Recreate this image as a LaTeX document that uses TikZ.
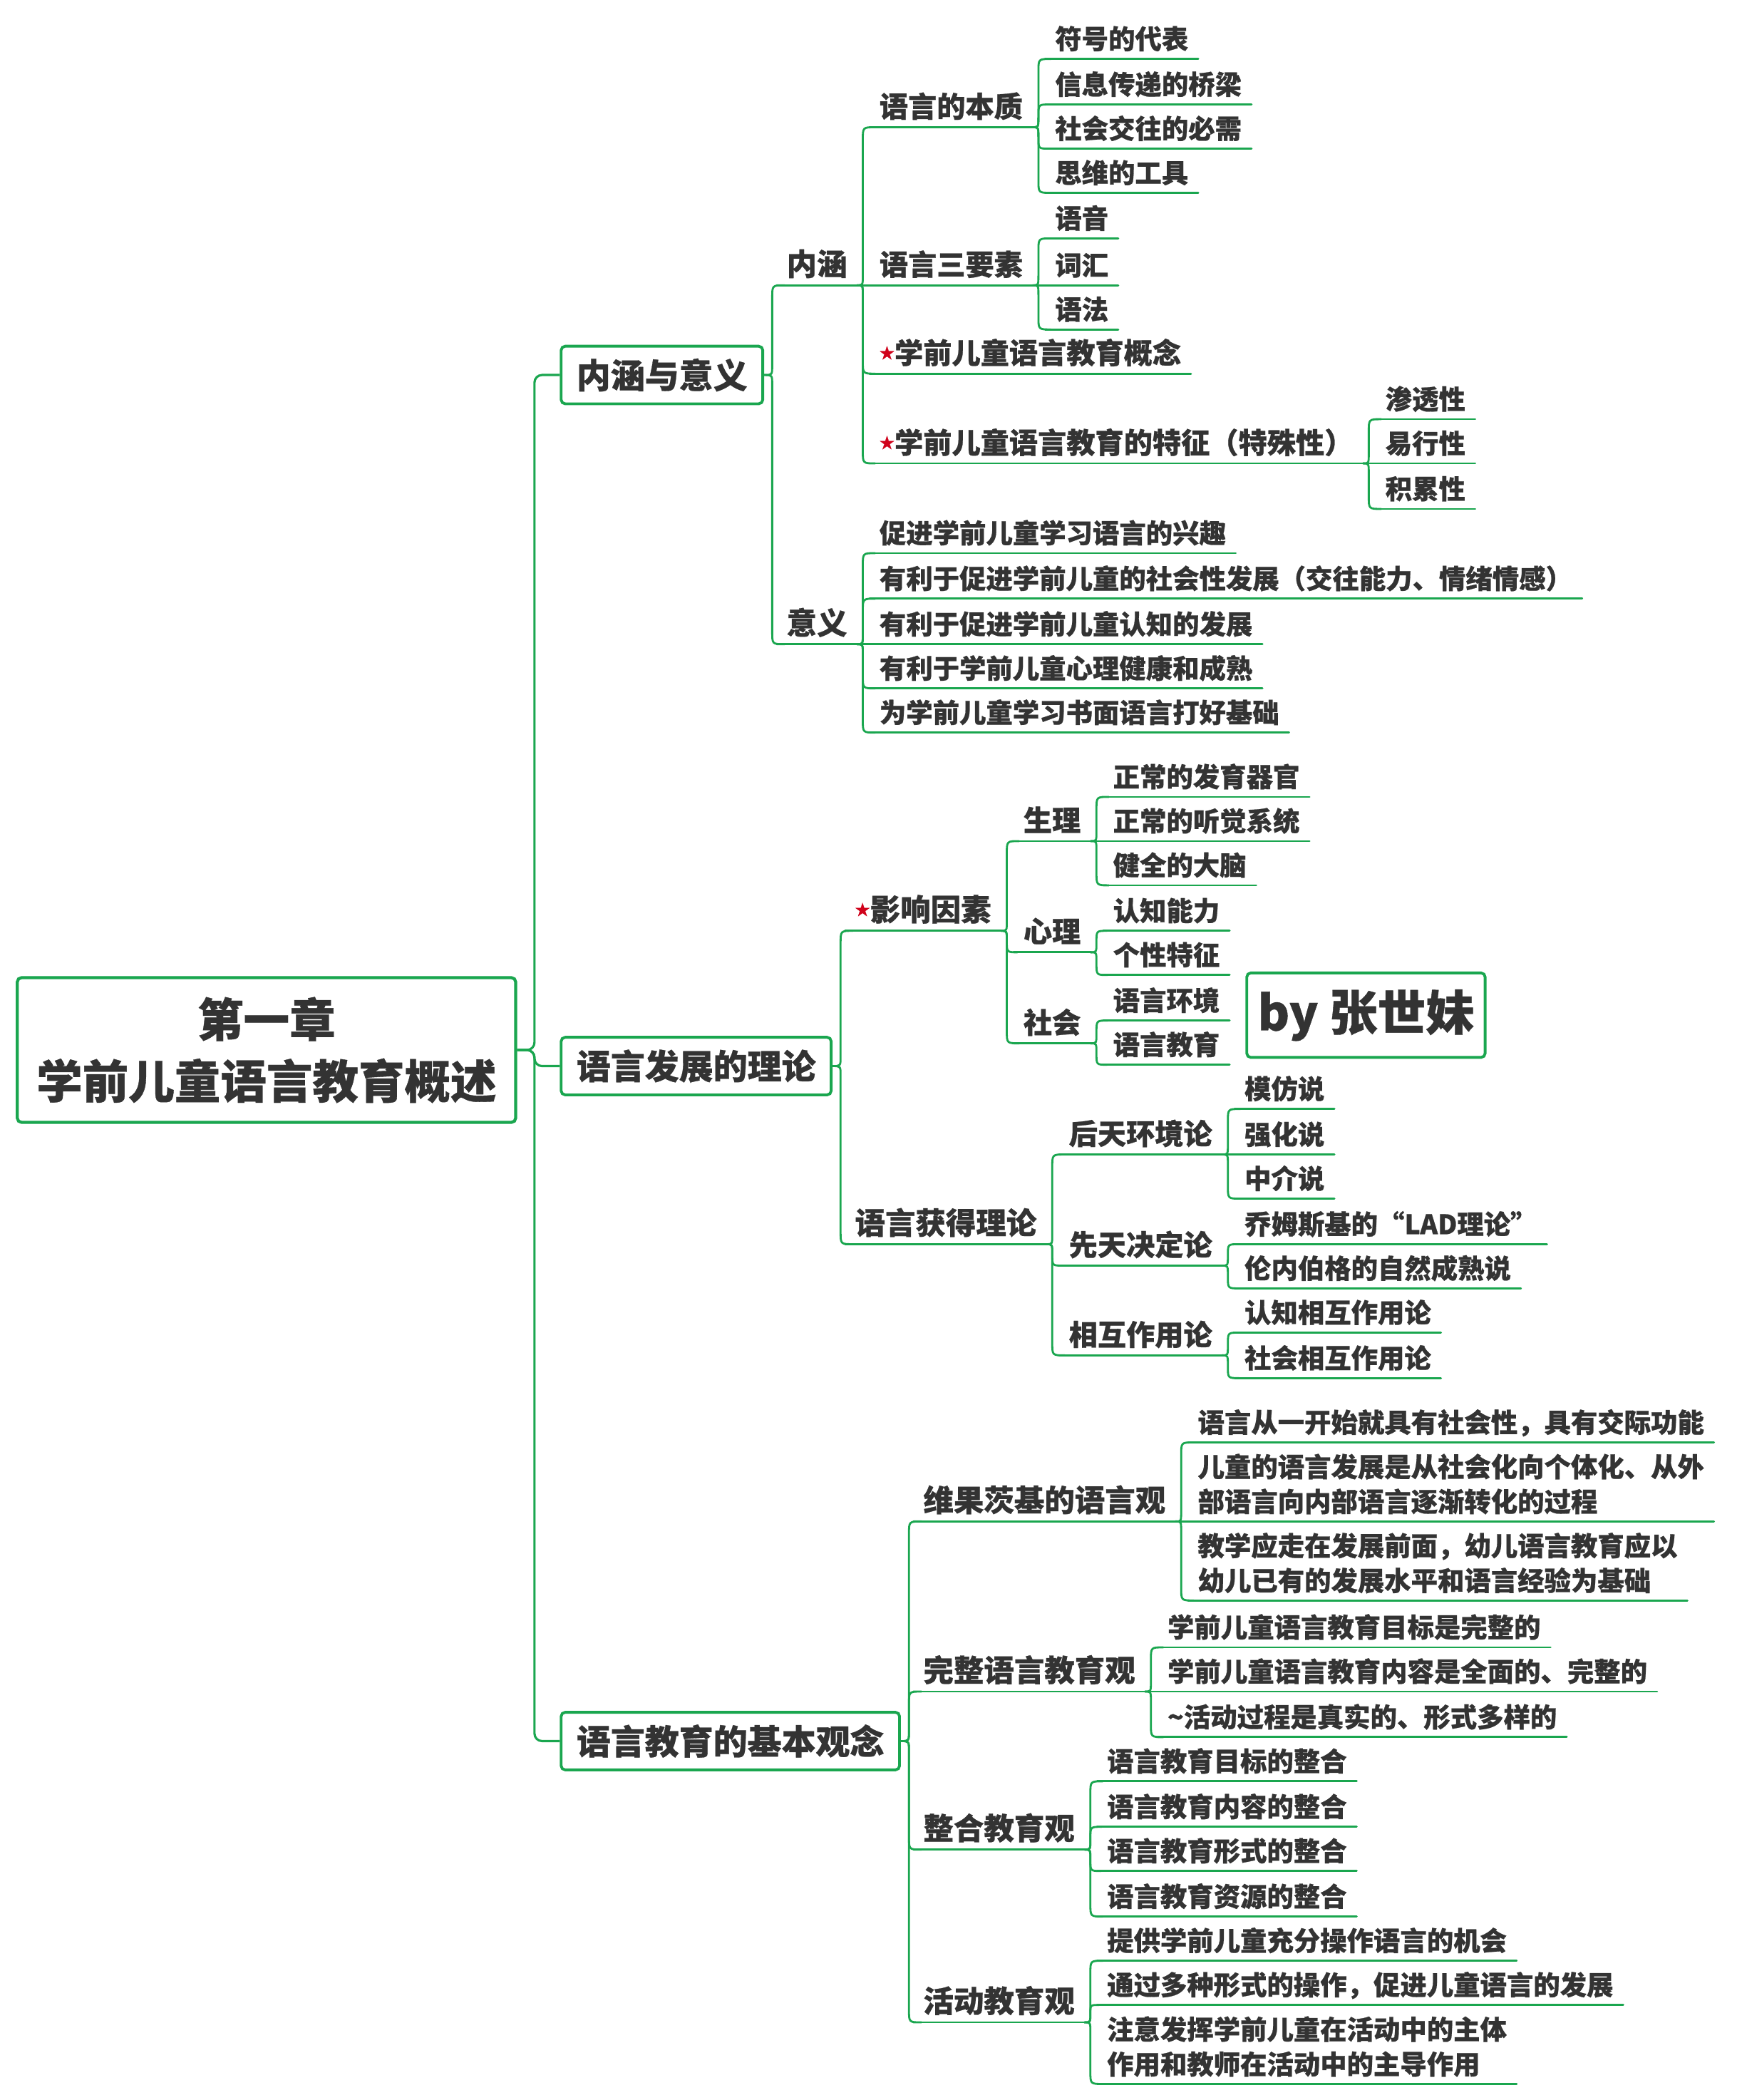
\documentclass[tikz,border=0pt]{standalone}
\usepackage{fontspec}
\setmainfont{Noto Sans CJK SC}[BoldFeatures={FakeBold=0.6}]
\usetikzlibrary{calc}
\definecolor{grn}{HTML}{1AA64F}
\definecolor{txt}{HTML}{333333}
\definecolor{starred}{HTML}{D0021B}
\newcommand\redstar[1]{{\color{starred}\raisebox{#1}{\fontsize{6}{6}\selectfont ★}}}
\newcommand\conn[3][2.3pt]{%
  \draw[link] let \p1=(#2), \p2=(#3.south west),
    \n1={sign(\y2-\y1)}, \n2={min(5pt,abs(\y2-\y1)/2)}, \n3={min(3.8pt,abs(\y2-\y1)/2)} in
    (\p1) .. controls ({\x1+#1},{\y1}) .. ({\x1+#1},{\y1+\n1*\n3})
    -- ({\x1+#1},{\y2-\n1*\n2}) .. controls ({\x1+#1},{\y2}) .. ({\x1+#1+\n2},{\y2}) -- (\p2);}
\tikzset{
  link/.style={draw=grn, line width=0.8pt, line cap=round},
  trunk/.style={draw=grn, line width=0.9pt, rounded corners=3pt},
  topic/.style={anchor=south west, text=txt, inner xsep=3.73pt, inner ysep=1.6pt, text depth=2.2pt,
    append after command={(\tikzlastnode.south west) edge[link] (\tikzlastnode.south east)}},
  topicml/.style={anchor=south west, text=txt, inner xsep=3.73pt, inner ysep=2.6pt, align=left,
    append after command={(\tikzlastnode.south west) edge[link] (\tikzlastnode.south east)}},
  lvtwo/.style={topic, font=\bfseries\fontsize{12.04}{15}\selectfont},
  lvthree/.style={topic, font=\bfseries\fontsize{11.4}{14}\selectfont},
  leaf/.style={topic, font=\bfseries\fontsize{10.6}{13.85}\selectfont},
  leafml/.style={topicml, font=\bfseries\fontsize{10.6}{13.85}\selectfont},
  cx/.style={xshift=5pt},
  bx/.style={xshift=5pt},
  boxone/.style={draw=grn, line width=1.1pt, rounded corners=1.6pt, fill=white, text=txt,
    inner xsep=6.1pt, inner ysep=0pt, minimum height=22.9pt, anchor=west,
    font=\bfseries\fontsize{13.6}{16}\selectfont},
  rootbox/.style={draw=grn, line width=1.2pt, rounded corners=1.6pt, fill=white, text=txt,
    minimum width=198.2pt, minimum height=57.5pt, align=center, inner sep=0pt,
    font=\bfseries\fontsize{18.3}{24.5}\selectfont},
  signbox/.style={draw=grn, line width=1.1pt, rounded corners=1.6pt, fill=white, text=txt,
    minimum width=94.8pt, minimum height=33.6pt, inner sep=0pt,
    font=\bfseries\fontsize{19.2}{22}\selectfont},
}
\begin{document}
\begin{tikzpicture}[x=0.5327pt, y=-0.5327pt]
\fill[white] (0,0) rectangle (1297,1568);
\useasboundingbox (0,0) rectangle (1297,1568);

% root and main boxes
\node[rootbox] (root) at (199,784) {第一章\\学前儿童语言教育概述};
\node[boxone] (b1) at (418,280) {内涵与意义};
\node[boxone] (b2) at (418,796) {语言发展的理论};
\node[boxone] (b3) at (418,1300) {语言教育的基本观念};
\node[signbox] (sig) at (1020,758) {by 张世妹};

% section 1
\node[lvtwo,bx] (n1) at (b1.east |- 0,213) {内涵};
\node[lvtwo,bx] (n2) at (b1.east |- 0,481) {意义};
\node[lvthree,cx] (n11) at (n1.south east |- 0,95) {语言的本质};
\node[lvthree,cx] (n12) at (n1.south east |- 0,213) {语言三要素};
\node[lvthree,cx] (n13) at (n1.south east |- 0,279) {\redstar{2pt}学前儿童语言教育概念};
\node[lvthree,cx] (n14) at (n1.south east |- 0,346) {\redstar{2pt}学前儿童语言教育的特征（特殊性）};
\node[leaf,cx] (n111) at (n11.south east |- 0,44) {符号的代表};
\node[leaf,cx] (n112) at (n11.south east |- 0,78) {信息传递的桥梁};
\node[leaf,cx] (n113) at (n11.south east |- 0,111) {社会交往的必需};
\node[leaf,cx] (n114) at (n11.south east |- 0,144) {思维的工具};
\node[leaf,cx] (n121) at (n12.south east |- 0,178) {语音};
\node[leaf,cx] (n122) at (n12.south east |- 0,213) {词汇};
\node[leaf,cx] (n123) at (n12.south east |- 0,246) {语法};
\node[leaf,cx] (n141) at (n14.south east |- 0,313) {渗透性};
\node[leaf,cx] (n142) at (n14.south east |- 0,346) {易行性};
\node[leaf,cx] (n143) at (n14.south east |- 0,380) {积累性};
\node[leaf,cx] (n21) at (n2.south east |- 0,413) {促进学前儿童学习语言的兴趣};
\node[leaf,cx] (n22) at (n2.south east |- 0,447) {有利于促进学前儿童的社会性发展（交往能力、情绪情感）};
\node[leaf,cx] (n23) at (n2.south east |- 0,481) {有利于促进学前儿童认知的发展};
\node[leaf,cx] (n24) at (n2.south east |- 0,514) {有利于学前儿童心理健康和成熟};
\node[leaf,cx] (n25) at (n2.south east |- 0,547) {为学前儿童学习书面语言打好基础};

% section 2
\node[lvtwo,bx] (m1) at (b2.east |- 0,695) {\redstar{2.2pt}影响因素};
\node[lvtwo,bx] (m2) at (b2.east |- 0,929) {语言获得理论};
\node[lvthree,cx] (m11) at (m1.south east |- 0,628) {生理};
\node[lvthree,cx] (m12) at (m1.south east |- 0,711) {心理};
\node[lvthree,cx] (m13) at (m1.south east |- 0,779) {社会};
\node[leaf,cx] (m111) at (m11.south east |- 0,595) {正常的发育器官};
\node[leaf,cx] (m112) at (m11.south east |- 0,628) {正常的听觉系统};
\node[leaf,cx] (m113) at (m11.south east |- 0,661) {健全的大脑};
\node[leaf,cx] (m121) at (m12.south east |- 0,695) {认知能力};
\node[leaf,cx] (m122) at (m12.south east |- 0,728) {个性特征};
\node[leaf,cx] (m131) at (m13.south east |- 0,762) {语言环境};
\node[leaf,cx] (m132) at (m13.south east |- 0,795) {语言教育};
\node[lvthree,cx] (m21) at (m2.south east |- 0,862) {后天环境论};
\node[lvthree,cx] (m22) at (m2.south east |- 0,945) {先天决定论};
\node[lvthree,cx] (m23) at (m2.south east |- 0,1012) {相互作用论};
\node[leaf,cx] (m211) at (m21.south east |- 0,828) {模仿说};
\node[leaf,cx] (m212) at (m21.south east |- 0,862) {强化说};
\node[leaf,cx] (m213) at (m21.south east |- 0,895) {中介说};
\node[leaf,cx] (m221) at (m22.south east |- 0,929) {乔姆斯基的“LAD理论”};
\node[leaf,cx] (m222) at (m22.south east |- 0,962) {伦内伯格的自然成熟说};
\node[leaf,cx] (m231) at (m23.south east |- 0,995) {认知相互作用论};
\node[leaf,cx] (m232) at (m23.south east |- 0,1029) {社会相互作用论};

% section 3
\node[lvtwo,bx] (k1) at (b3.east |- 0,1136) {维果茨基的语言观};
\node[lvtwo,bx] (k2) at (b3.east |- 0,1263) {完整语言教育观};
\node[lvtwo,bx] (k3) at (b3.east |- 0,1381) {整合教育观};
\node[lvtwo,bx] (k4) at (b3.east |- 0,1510) {活动教育观};
\node[leaf,cx] (k11) at (k1.south east |- 0,1077) {语言从一开始就具有社会性，具有交际功能};
\node[leafml,cx] (k12) at (k1.south east |- 0,1136) {儿童的语言发展是从社会化向个体化、从外\\部语言向内部语言逐渐转化的过程};
\node[leafml,cx] (k13) at (k1.south east |- 0,1195) {教学应走在发展前面，幼儿语言教育应以\\幼儿已有的发展水平和语言经验为基础};
\node[leaf,cx] (k21) at (k2.south east |- 0,1230) {学前儿童语言教育目标是完整的};
\node[leaf,cx] (k22) at (k2.south east |- 0,1263) {学前儿童语言教育内容是全面的、完整的};
\node[leaf,cx] (k23) at (k2.south east |- 0,1297) {\textasciitilde 活动过程是真实的、形式多样的};
\node[leaf,cx] (k31) at (k3.south east |- 0,1330) {语言教育目标的整合};
\node[leaf,cx] (k32) at (k3.south east |- 0,1364) {语言教育内容的整合};
\node[leaf,cx] (k33) at (k3.south east |- 0,1397) {语言教育形式的整合};
\node[leaf,cx] (k34) at (k3.south east |- 0,1431) {语言教育资源的整合};
\node[leaf,cx] (k41) at (k4.south east |- 0,1464) {提供学前儿童充分操作语言的机会};
\node[leaf,cx] (k42) at (k4.south east |- 0,1497) {通过多种形式的操作，促进儿童语言的发展};
\node[leafml,cx] (k43) at (k4.south east |- 0,1556) {注意发挥学前儿童在活动中的主体\\作用和教师在活动中的主导作用};

% trunk
\draw[trunk] (root.east) -- ++(6.9pt,0) |- (b1.west);
\draw[trunk] (root.east) -- ++(6.9pt,0) |- (b2.west);
\draw[trunk] (root.east) -- ++(6.9pt,0) |- (b3.west);

% connectors
\foreach \c in {n1,n2} {\conn[3.2pt]{b1.east}{\c}}
\foreach \c in {m1,m2} {\conn[3.2pt]{b2.east}{\c}}
\foreach \c in {k1,k2,k3,k4} {\conn[3.2pt]{b3.east}{\c}}
\foreach \c in {n11,n12,n13,n14} {\conn{n1.south east}{\c}}
\foreach \c in {n111,n112,n113,n114} {\conn{n11.south east}{\c}}
\foreach \c in {n121,n122,n123} {\conn{n12.south east}{\c}}
\foreach \c in {n141,n142,n143} {\conn{n14.south east}{\c}}
\foreach \c in {n21,n22,n23,n24,n25} {\conn{n2.south east}{\c}}
\foreach \c in {m11,m12,m13} {\conn{m1.south east}{\c}}
\foreach \c in {m111,m112,m113} {\conn{m11.south east}{\c}}
\foreach \c in {m121,m122} {\conn{m12.south east}{\c}}
\foreach \c in {m131,m132} {\conn{m13.south east}{\c}}
\foreach \c in {m21,m22,m23} {\conn{m2.south east}{\c}}
\foreach \c in {m211,m212,m213} {\conn{m21.south east}{\c}}
\foreach \c in {m221,m222} {\conn{m22.south east}{\c}}
\foreach \c in {m231,m232} {\conn{m23.south east}{\c}}
\foreach \c in {k11,k12,k13} {\conn{k1.south east}{\c}}
\foreach \c in {k21,k22,k23} {\conn{k2.south east}{\c}}
\foreach \c in {k31,k32,k33,k34} {\conn{k3.south east}{\c}}
\foreach \c in {k41,k42,k43} {\conn{k4.south east}{\c}}
\end{tikzpicture}
\end{document}
